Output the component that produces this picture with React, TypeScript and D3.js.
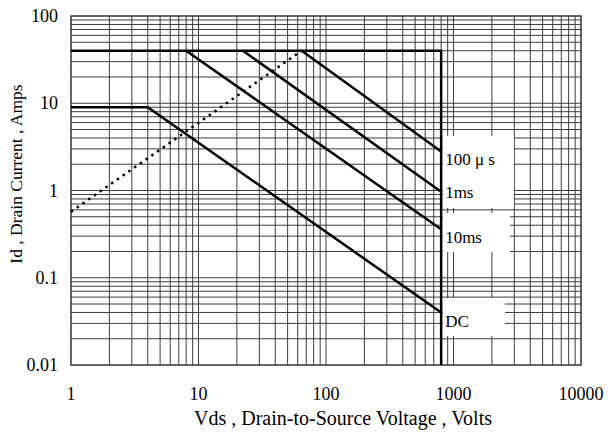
import React from "react";
import * as d3 from "d3";

const xTicks = [1, 10, 100, 1000, 10000];
const xTickLabels = ["1", "10", "100", "1000", "10000"];
const yTicks = [0.01, 0.1, 1, 10, 100];
const yTickLabels = ["0.01", "0.1", "1", "10", "100"];

// Boundary: 40 A package limit and 800 V breakdown limit
const limitV = [1, 800, 800];
const limitI = [40, 40, 0.01];

const dcV = [1, 4, 800];
const dcI = [9, 9, 0.04];
const ms10V = [8, 800];
const ms10I = [40, 0.36];
const ms1V = [22.3, 800];
const ms1I = [40, 0.97];
const us100V = [64.5, 800];
const us100I = [40, 2.8];

// RDS(on) limit (dotted)
const rdsV = [1, 64.5];
const rdsI = [0.57, 40];

const curveLabels = ["100 \u03bc s", "1ms", "10ms", "DC"];
const curveLabelI = [1.96, 0.82, 0.25, 0.027];

const W = 608;
const H = 434;
const L = 71, R = 581, T = 16, B = 365;

export default function App() {
  const x = d3.scaleLog().domain([1, 10000]).range([L, R]);
  const y = d3.scaleLog().domain([0.01, 100]).range([B, T]);

  const gridVals: number[] = [];
  for (let d = -2; d <= 3; d++) {
    for (let k = 1; k <= 9; k++) gridVals.push(k * Math.pow(10, d));
  }
  const xGrid = gridVals.filter((v) => v > 1 && v < 10000);
  const yGrid = gridVals.filter((v) => v > 0.01 && v < 100);

  const line = (vs: number[], is: number[]) =>
    d3.line<number>()
      .x((_, i) => x(vs[i]))
      .y((_, i) => y(is[i]))(vs) as string;

  const font = "'Liberation Serif', 'Times New Roman', serif";
  const gridColor = "#3c3c3c";

  const vx = x(800);
  const boxes = [
    { x0: vx + 1.5, x1: 514, y0: 136, y1: 208 },
    { x0: vx + 1.5, x1: 510, y0: 213, y1: 252 },
    { x0: vx + 1.5, x1: 505, y0: 298, y1: 336 },
  ];

  return (
    <svg
      width={W}
      height={H}
      style={{ position: "absolute", left: 0, top: 0, background: "#fff" }}
    >
      <rect x={0} y={0} width={W} height={H} fill="#fff" />
      <g stroke={gridColor} strokeWidth={1}>
        {xGrid.map((v, i) => (
          <line key={"vx" + i} x1={x(v)} x2={x(v)} y1={T} y2={B} />
        ))}
        {yGrid.map((v, i) => (
          <line key={"hy" + i} x1={L} x2={R} y1={y(v)} y2={y(v)} />
        ))}
      </g>
      {boxes.map((b, i) => (
        <rect key={"box" + i} x={b.x0} y={b.y0} width={b.x1 - b.x0} height={b.y1 - b.y0} fill="#fff" />
      ))}
      <rect x={L} y={T} width={R - L} height={B - T} fill="none" stroke="#333" strokeWidth={1.5} />

      <g fill="none" stroke="#000" strokeWidth={2.5}>
        <path d={line(limitV, limitI)} />
        <path d={line(dcV, dcI)} />
        <path d={line(ms10V, ms10I)} />
        <path d={line(ms1V, ms1I)} />
        <path d={line(us100V, us100I)} />
        <path d={line(rdsV, rdsI)} strokeDasharray="2.5 4.5" strokeWidth={2.5} />
      </g>

      <g fontFamily={font} fontSize={17} fill="#000">
        {curveLabels.map((t, i) => (
          <text key={"cl" + i} x={vx + 4} y={y(curveLabelI[i])}>
            {t}
          </text>
        ))}
      </g>

      <g fontFamily={font} fontSize={18} fill="#000">
        {yTicks.map((v, i) => (
          <text key={"yt" + i} x={58} y={y(v) + 6} textAnchor="end">
            {yTickLabels[i]}
          </text>
        ))}
        {xTicks.map((v, i) => (
          <text key={"xt" + i} x={x(v)} y={400} textAnchor="middle">
            {xTickLabels[i]}
          </text>
        ))}
        <text x={343} y={425} textAnchor="middle" fontSize={20}>
          Vds , Drain-to-Source Voltage , Volts
        </text>
        <text transform={`translate(22, 174) rotate(-90)`} textAnchor="middle" fontSize={17.5}>
          Id , Drain Current , Amps
        </text>
      </g>
    </svg>
  );
}
